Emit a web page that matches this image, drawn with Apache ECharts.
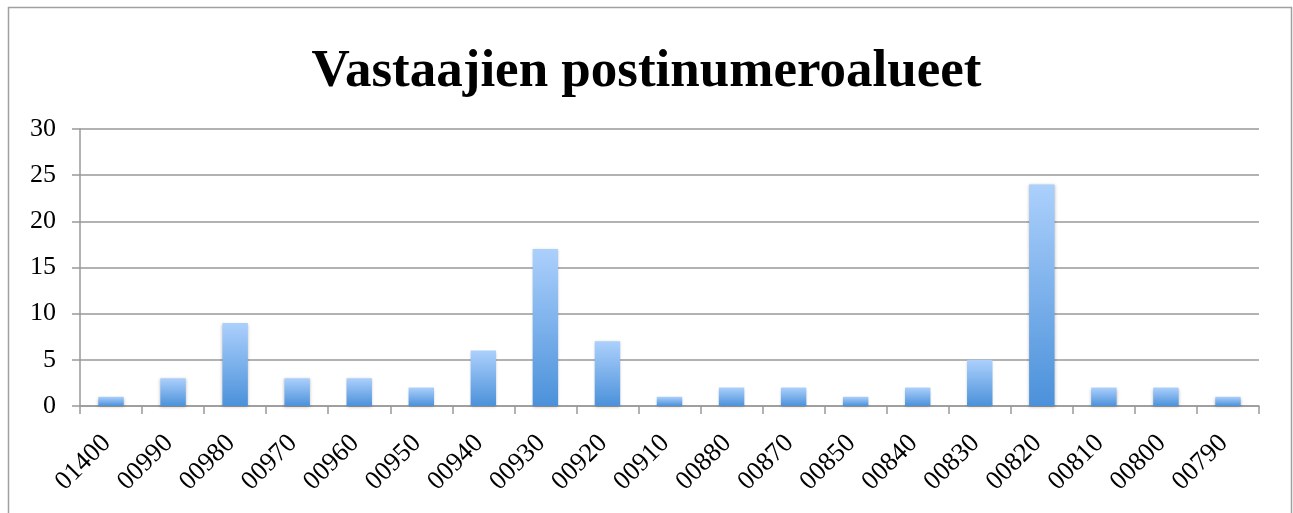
<!DOCTYPE html>
<html>
<head>
<meta charset="utf-8">
<script src="https://cdn.jsdelivr.net/npm/echarts@6/dist/echarts.min.js"></script>
<style>
  html, body { margin: 0; padding: 0; background: #fff; }
  #chart { width: 1293px; height: 513px; }
</style>
</head>
<body>
<div id="chart"></div>
<script>
var postcodes = ["01400", "00990", "00980", "00970", "00960", "00950", "00940", "00930", "00920", "00910",
  "00880", "00870", "00850", "00840", "00830", "00820", "00810", "00800", "00790"];
var counts = [1, 3, 9, 3, 3, 2, 6, 17, 7, 1, 2, 2, 1, 2, 5, 24, 2, 2, 1];
var yTicks = [0, 5, 10, 15, 20, 25, 30];

window.onload = function () {
  var myChart = echarts.init(document.getElementById("chart"));
  var serif = "'Liberation Serif', 'DejaVu Serif', serif";
  var option = {
    animation: false,
    backgroundColor: "#fff",
    title: {
      text: "Vastaajien postinumeroalueet",
      left: "center",
      top: 41,
      textStyle: { fontFamily: serif, fontSize: 53, fontWeight: "bold", color: "#000" },
    },
    graphic: [
      {
        type: "rect",
        shape: { x: 8.5, y: 7.5, width: 1283, height: 520 },
        style: { fill: "none", stroke: "#a0a0a0", lineWidth: 1.5 },
      },
    ],
    grid: { left: 80, right: 34, top: 129, bottom: 107 },
    xAxis: {
      type: "category",
      data: postcodes,
      axisLine: { lineStyle: { color: "#999", width: 1.5 } },
      axisTick: { show: true, length: 8, lineStyle: { color: "#999", width: 1.5 } },
      axisLabel: {
        rotate: 45,
        fontFamily: serif,
        fontSize: 26.5,
        color: "#000",
        margin: 29,
        padding: [0, 6, 0, 0],
      },
    },
    yAxis: {
      type: "value",
      min: yTicks[0],
      max: yTicks[yTicks.length - 1],
      interval: 5,
      axisLine: { show: true, lineStyle: { color: "#999", width: 1.5 } },
      axisTick: { show: true, length: 8, lineStyle: { color: "#999", width: 1.5 } },
      splitLine: { lineStyle: { color: "#999", width: 1.5 } },
      axisLabel: { fontFamily: serif, fontSize: 26, color: "#000", margin: 24 },
    },
    series: [
      {
        type: "bar",
        data: counts,
        barWidth: "41%",
        itemStyle: {
          color: new echarts.graphic.LinearGradient(0, 0, 0, 1, [
            { offset: 0, color: "#acd0fc" },
            { offset: 1, color: "#4b91da" },
          ]),
          shadowColor: "rgba(0,0,0,0.25)",
          shadowBlur: 3,
          shadowOffsetY: 1,
        },
      },
    ],
  };
  myChart.setOption(option);
};
</script>
</body>
</html>
